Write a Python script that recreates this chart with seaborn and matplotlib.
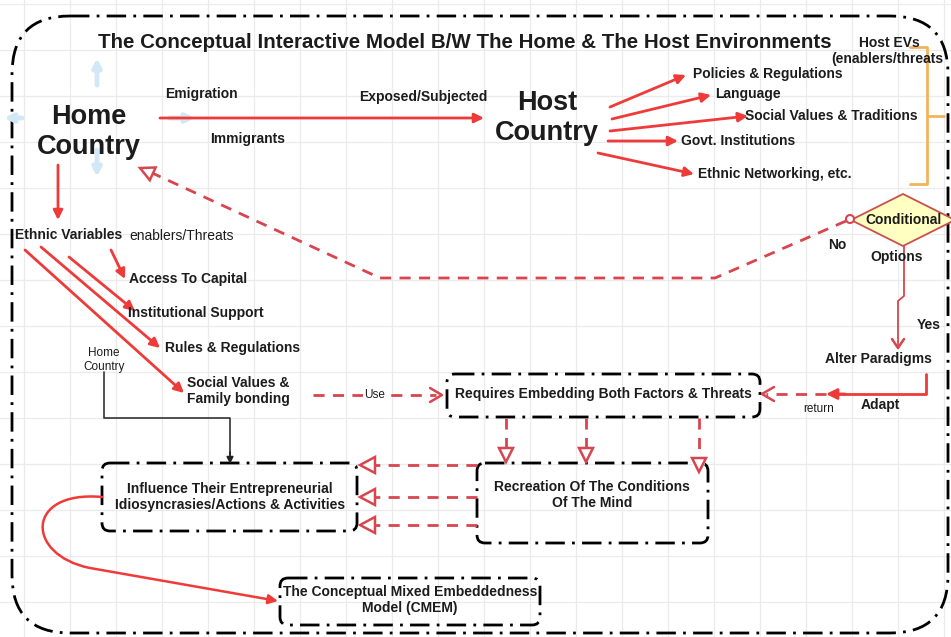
import numpy as np
import matplotlib
matplotlib.use("Agg")
import matplotlib.pyplot as plt
import seaborn as sns
from matplotlib.patches import FancyArrowPatch, FancyBboxPatch, Polygon, Circle
from matplotlib.path import Path

sns.set_theme(style="white")
plt.rcParams['font.family'] = ['Liberation Sans', 'DejaVu Sans']

# Diagram content
title = "The Conceptual Interactive Model B/W The Home & The Host Environments"
home_label = "Home\nCountry"
host_label = "Host\nCountry"
host_factors = ["Policies & Regulations", "Language", "Social Values & Traditions",
                "Govt. Institutions", "Ethnic Networking, etc."]
host_factor_xy = [(693, 74), (715, 94), (745, 116), (681, 141), (698, 174)]
host_arrow_from = [(610, 107), (612, 119), (610, 131), (608, 141), (598, 153)]
host_arrow_to = [(686, 75), (711, 95), (748, 116), (678, 141), (694, 174)]

ethnic_factors = ["Access To Capital", "Institutional Support", "Rules & Regulations",
                  "Social Values &\nFamily bonding"]
ethnic_xy = [(129, 279), (128, 313), (165, 348), (187, 391)]
ethnic_from = [(111, 250), (69, 257), (41, 247), (25, 250)]
ethnic_to = [(125, 279), (135, 311), (160, 348), (184, 393)]

box_labels = ["Requires Embedding Both Factors & Threats",
              "Recreation Of The Conditions\nOf The Mind",
              "Influence Their Entrepreneurial\nIdiosyncrasies/Actions & Activities",
              "The Conceptual Mixed Embeddedness\nModel (CMEM)"]
box_rects = [(447, 374, 313, 43), (477, 463, 231, 80), (102, 463, 255, 68), (280, 578, 260, 47)]
box_text_xy = [(603, 394), (592, 495), (230, 497), (410, 600)]

RED = "#ef3a3a"
DRED = "#d9454f"
TXT = "#1c1c1c"
BOXLS = (0, (7, 2.6, 1, 2.6))

fig = plt.figure(figsize=(9.51, 6.37), dpi=100)
ax = fig.add_axes([0, 0, 1, 1])
ax.set_xlim(0, 951)
ax.set_ylim(637, 0)
ax.set_xticks(np.arange(24, 951, 46))
ax.set_yticks(np.arange(4, 637, 46))
ax.grid(True, color="#ebebeb", lw=0.9)
ax.tick_params(length=0, labelbottom=False, labelleft=False)
for s in ax.spines.values():
    s.set_visible(False)


def arrow(p, q, color=RED, lw=2, style='-|>', ms=14):
    ax.add_patch(FancyArrowPatch(p, q, arrowstyle=style, mutation_scale=ms, color=color,
                                 lw=lw, shrinkA=0, shrinkB=0, zorder=3))


def open_tri(tip, d, color=DRED, L=14, w=7):
    d = np.array(d, float) / np.hypot(*d)
    n = np.array([-d[1], d[0]])
    t = np.array(tip, float)
    pts = [t, t - L * d + w * n, t - L * d - w * n]
    ax.add_patch(Polygon(pts, closed=True, fc="white", ec=color, lw=1.8, zorder=4))


def open_v(tip, d, color=DRED, L=12, w=7):
    d = np.array(d, float) / np.hypot(*d)
    n = np.array([-d[1], d[0]])
    t = np.array(tip, float)
    a, b = t - L * d + w * n, t - L * d - w * n
    ax.plot([a[0], t[0], b[0]], [a[1], t[1], b[1]], color=color, lw=1.8, zorder=4)


def dashed(xs, ys, color=DRED, lw=2):
    ax.plot(xs, ys, color=color, lw=lw, ls=(0, (4, 3)), zorder=3)


def label(x, y, s, size=10, weight="bold", ha="left", **kw):
    ax.text(x, y, s, fontsize=size, fontweight=weight, ha=ha, va="center", color=TXT,
            zorder=5, **kw)


# outer border
ax.add_patch(FancyBboxPatch((12, 16), 936, 617, boxstyle="round,pad=0,rounding_size=58",
                            fc="none", ec="black", lw=2, ls=BOXLS, zorder=2))

label(465, 43, title, size=14.8, ha="center")

# faint selection handles around Home Country
for p, q in [((97, 85), (97, 58)), ((97, 150), (97, 177)), ((22, 118), (4, 118)), ((170, 118), (195, 118))]:
    arrow(p, q, color="#d3e8f6", lw=3.5, ms=12)

label(89, 132, home_label, size=19.5, ha="center", linespacing=1.2)
label(547, 118, host_label, size=19.5, ha="center", linespacing=1.25)

# migration arrow
arrow((160, 118), (484, 118))
label(165, 94, "Emigration")
label(210, 139, "Immigrants")
label(359, 97, "Exposed/Subjected")

for p, q in zip(host_arrow_from, host_arrow_to):
    arrow(p, q)
for (x, y), s in zip(host_factor_xy, host_factors):
    label(x, y, s)

# host EVs bracket
ax.plot([910, 927, 927, 910], [47, 47, 184, 184], color="#f0b45a", lw=2, zorder=2)
ax.plot([927, 944], [116, 116], color="#f0b45a", lw=2, zorder=2)
label(889, 43, "Host EVs", ha="center")
label(887, 59, "(enablers/threats", ha="center")

# conditional diamond
ax.add_patch(Polygon([(903, 194), (955, 220), (903, 246), (851, 220)], closed=True,
                     fc="#ffffc2", ec="#c8504a", lw=1.3, zorder=3))
label(903, 220, "Conditional", ha="center")
ax.add_patch(Circle((850, 219), 4, fc="white", ec=DRED, lw=1.5, zorder=4))
label(828, 245, "No")
label(897, 257, "Options", ha="center")

# "No" path back to home country
dashed([846, 715, 380, 150], [221, 278, 278, 172])
open_tri((140, 168), (140 - 380, 168 - 278))

# "Yes" path
ax.plot([904, 904, 898, 898], [246, 296, 301, 347], color="#d9454f", lw=1.3, zorder=3)
open_v((898, 348), (0, 1), color="#d9454f", L=9, w=6)
label(917, 325, "Yes")
label(878, 359, "Alter Paradigms", ha="center")

# adapt / return
ax.plot([926, 926, 838], [374, 394, 394], color=RED, lw=2, zorder=3)
arrow((845, 394), (826, 394), ms=16)
dashed([826, 766], [394, 394])
open_v((762, 394), (-1, 0))
label(880, 405, "Adapt", ha="center")
label(819, 409, "return", size=8.5, weight="normal", ha="center")

# home country -> ethnic variables
arrow((58, 165), (58, 220))
label(15, 235, "Ethnic Variables")
label(129, 236, "enablers/Threats", weight="normal")
for p, q in zip(ethnic_from, ethnic_to):
    arrow(p, q)
for (x, y), s in zip(ethnic_xy, ethnic_factors):
    label(x, y, s, linespacing=1.2)

# small home country connector
label(104, 360, "Home\nCountry", size=8.5, weight="normal", ha="center", linespacing=1.3)
ax.plot([104, 104, 230, 230], [372, 418, 418, 455], color="#333333", lw=1.2, zorder=3)
arrow((230, 452), (230, 464), color="#222222", lw=1.2, ms=10)

# "Use" link
dashed([313, 436], [395, 395])
open_v((442, 395), (1, 0))
ax.text(375, 395, "Use", fontsize=8.5, ha="center", va="center", color=TXT, zorder=5,
        bbox=dict(fc="white", ec="none", pad=1))

# boxes
for (x, y, w, h), s, (tx, ty) in zip(box_rects, box_labels, box_text_xy):
    ax.add_patch(FancyBboxPatch((x, y), w, h, boxstyle="round,pad=0,rounding_size=8",
                                fc="none", ec="black", lw=2, ls=BOXLS, zorder=2))
    label(tx, ty, s, ha="center", linespacing=1.2)

# requires -> recreation
for x, y1 in [(506, 462), (586, 462), (699, 472)]:
    dashed([x, x], [418, y1 - 12])
    open_tri((x, y1), (0, 1))

# recreation -> influence
for y in [465, 497, 525]:
    dashed([477, 374], [y, y])
    open_tri((360, y), (-1, 0), L=15, w=8)

# influence -> CMEM curve
curve = Path([(102, 497), (25, 490), (25, 555), (90, 568), (278, 601)],
             [Path.MOVETO, Path.CURVE4, Path.CURVE4, Path.CURVE4, Path.LINETO])
ax.add_patch(FancyArrowPatch(path=curve, arrowstyle='-|>', mutation_scale=14,
                             color=RED, lw=1.8, zorder=3))

plt.savefig("out.png", dpi=100)
